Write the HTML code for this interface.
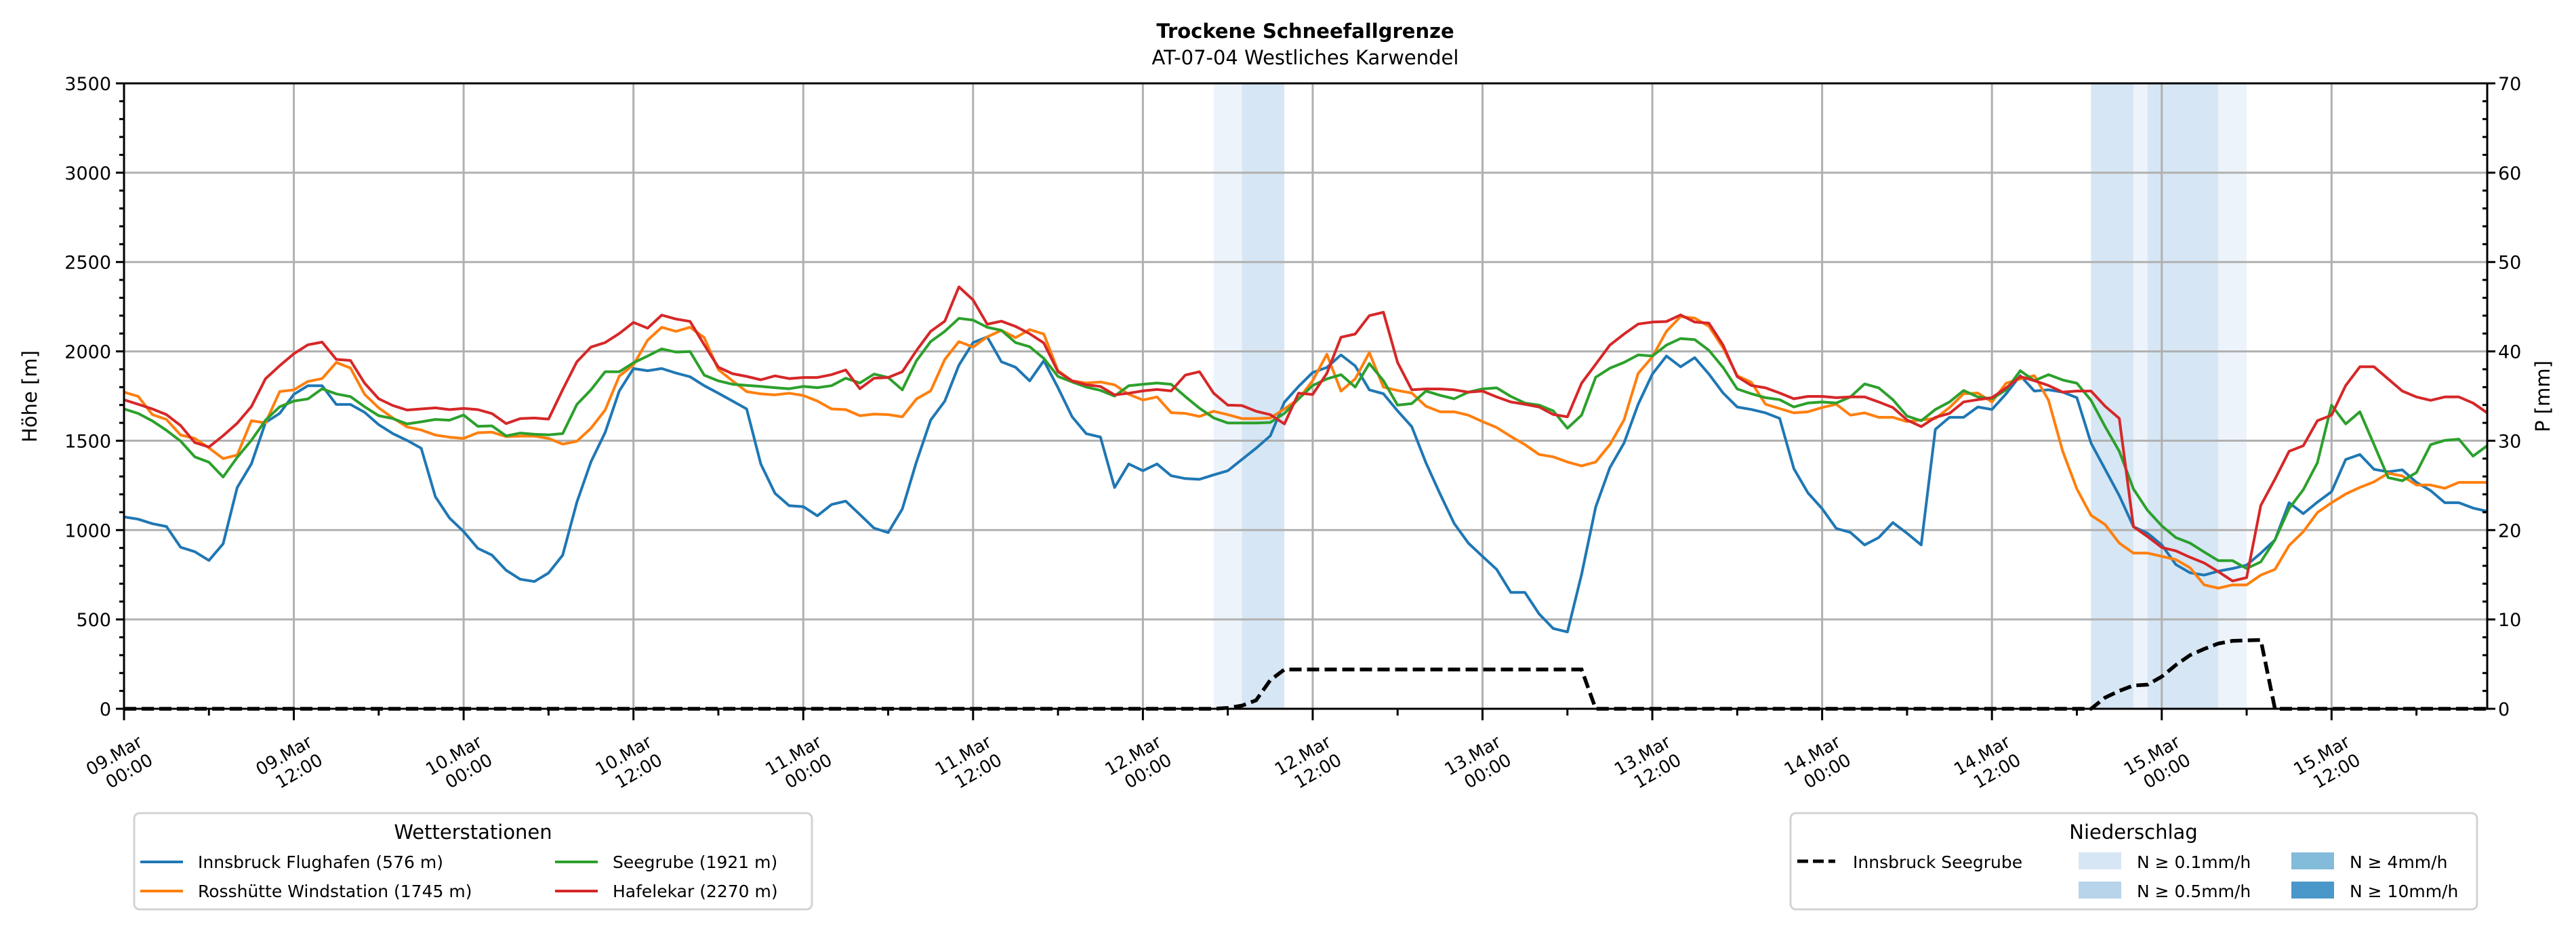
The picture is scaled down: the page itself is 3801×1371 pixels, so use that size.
<!DOCTYPE html>
<html><head><meta charset="utf-8"><title>Trockene Schneefallgrenze</title>
<style>html,body{margin:0;padding:0;background:#fff;}svg{display:block;font-family:"DejaVu Sans","Liberation Sans",sans-serif;}</style>
</head><body>
<svg id="chart" width="3801" height="1371" viewBox="0 0 3801 1371" xmlns="http://www.w3.org/2000/svg">
<rect x="0" y="0" width="3801" height="1371" fill="#fff"/>
<text x="1926" y="56" font-size="29" font-weight="bold" text-anchor="middle">Trockene Schneefallgrenze</text>
<text x="1926" y="95" font-size="29" text-anchor="middle">AT-07-04 Westliches Karwendel</text>
<g id="spans"></g>
<g id="grid"></g>
<g id="series"></g>
<g id="axes"></g>
<text transform="translate(54,585) rotate(-90)" font-size="29" text-anchor="middle">Höhe [m]</text>
<text transform="translate(3762,585) rotate(-90)" font-size="29" text-anchor="middle">P [mm]</text>
<g>
<rect x="198" y="1200" width="1000" height="142" rx="8" fill="#fff" stroke="#d3d3d3" stroke-width="3"/>
<text x="698" y="1238" font-size="29" text-anchor="middle">Wetterstationen</text>
<g><line x1="207" y1="1272" x2="270" y2="1272" stroke="#1f77b4" stroke-width="4"/><text x="292" y="1281" font-size="25">Innsbruck Flughafen (576 m)</text></g>
<g><line x1="207" y1="1315" x2="270" y2="1315" stroke="#ff7f0e" stroke-width="4"/><text x="292" y="1324" font-size="25">Rosshütte Windstation (1745 m)</text></g>
<g><line x1="819" y1="1272" x2="882" y2="1272" stroke="#2ca02c" stroke-width="4"/><text x="904" y="1281" font-size="25">Seegrube (1921 m)</text></g>
<g><line x1="819" y1="1315" x2="882" y2="1315" stroke="#d62728" stroke-width="4"/><text x="904" y="1324" font-size="25">Hafelekar (2270 m)</text></g>
</g>
<g>
<rect x="2642" y="1200" width="1013" height="142" rx="8" fill="#fff" stroke="#d3d3d3" stroke-width="3"/>
<text x="3148" y="1238" font-size="29" text-anchor="middle">Niederschlag</text>
<g><line x1="2652" y1="1271" x2="2708" y2="1271" stroke="#000" stroke-width="5" stroke-dasharray="16,7"/><text x="2734" y="1281" font-size="25">Innsbruck Seegrube</text></g>
<g><rect x="3067" y="1258" width="63" height="25" fill="#d6e6f4"/><text x="3153" y="1281" font-size="25">N ≥ 0.1mm/h</text></g>
<g><rect x="3067" y="1301" width="63" height="25" fill="#b7d4ea"/><text x="3153" y="1324" font-size="25">N ≥ 0.5mm/h</text></g>
<g><rect x="3381" y="1258" width="63" height="25" fill="#83bbdb"/><text x="3467" y="1281" font-size="25">N ≥ 4mm/h</text></g>
<g><rect x="3381" y="1301" width="63" height="25" fill="#4a98c9"/><text x="3467" y="1324" font-size="25">N ≥ 10mm/h</text></g>
</g>
</svg>
<script>
const xTickDays = ["09.Mar","09.Mar","10.Mar","10.Mar","11.Mar","11.Mar","12.Mar","12.Mar","13.Mar","13.Mar","14.Mar","14.Mar","15.Mar","15.Mar"];
const xTickTimes = ["00:00","12:00","00:00","12:00","00:00","12:00","00:00","12:00","00:00","12:00","00:00","12:00","00:00","12:00"];
const yTicks = [0,500,1000,1500,2000,2500,3000,3500];
const y2Ticks = [0,10,20,30,40,50,60,70];
const spanStart = [77,79,139,142,143,148];
const spanEnd = [79,82,142,143,148,150];
const spanLevel = ["light","mid","mid","light","mid","light"];
const innsbruck = [1074,1061,1036,1020,904,879,830,923,1238,1370,1602,1653,1760,1808,1808,1703,1703,1659,1590,1540,1502,1458,1187,1068,992,898,860,775,725,712,760,860,1156,1382,1546,1779,1904,1892,1904,1879,1858,1808,1766,1722,1678,1370,1206,1137,1131,1080,1143,1162,1087,1011,986,1118,1382,1615,1722,1923,2049,2081,1942,1911,1835,1948,1797,1634,1539,1521,1238,1370,1332,1370,1304,1288,1284,1309,1332,1395,1458,1527,1716,1804,1882,1910,1980,1919,1785,1763,1667,1579,1377,1202,1037,927,853,780,651,651,531,449,430,752,1129,1349,1487,1704,1873,1974,1914,1965,1873,1767,1689,1675,1656,1625,1344,1208,1120,1009,987,917,958,1042,982,917,1564,1631,1631,1689,1675,1763,1864,1778,1785,1772,1741,1487,1340,1193,1019,982,917,807,761,748,770,785,804,871,945,1153,1092,1156,1215,1395,1423,1340,1326,1337,1267,1221,1153,1153,1123,1105];
const rosshuette = [1772,1748,1646,1619,1532,1513,1460,1400,1420,1612,1600,1775,1785,1832,1848,1938,1907,1760,1684,1627,1577,1560,1532,1520,1513,1545,1548,1523,1526,1526,1513,1481,1497,1570,1672,1862,1925,2063,2135,2112,2135,2077,1898,1835,1775,1762,1757,1766,1753,1722,1678,1674,1640,1649,1646,1634,1734,1779,1955,2055,2024,2081,2118,2077,2122,2097,1892,1835,1823,1829,1813,1760,1728,1745,1657,1653,1636,1665,1646,1624,1624,1627,1678,1734,1836,1984,1778,1846,1993,1800,1781,1767,1693,1662,1662,1643,1607,1574,1524,1478,1423,1410,1381,1359,1381,1478,1616,1877,1969,2112,2195,2186,2140,2020,1864,1827,1704,1680,1656,1662,1686,1704,1643,1656,1631,1631,1607,1616,1625,1686,1763,1767,1717,1822,1846,1864,1726,1441,1230,1083,1031,927,871,871,853,835,789,693,675,693,693,748,780,914,991,1098,1153,1202,1239,1270,1318,1303,1252,1252,1234,1267,1267,1267];
const seegrube = [1678,1653,1611,1558,1498,1410,1380,1297,1407,1502,1615,1690,1722,1734,1791,1762,1747,1690,1640,1624,1594,1606,1619,1615,1644,1581,1583,1527,1543,1536,1533,1540,1703,1785,1886,1886,1936,1974,2014,1996,1999,1867,1835,1816,1810,1804,1797,1791,1804,1797,1808,1850,1823,1873,1854,1785,1948,2055,2112,2185,2175,2135,2118,2049,2026,1961,1860,1829,1800,1782,1750,1808,1816,1823,1816,1747,1682,1628,1599,1599,1599,1602,1653,1734,1809,1846,1870,1800,1932,1836,1699,1708,1778,1754,1735,1772,1790,1796,1748,1711,1699,1667,1570,1643,1855,1906,1938,1980,1974,2035,2072,2066,2006,1910,1790,1763,1741,1730,1689,1711,1717,1711,1745,1818,1796,1730,1638,1612,1675,1717,1781,1745,1735,1785,1892,1836,1870,1840,1822,1726,1579,1441,1230,1110,1024,958,927,877,829,829,785,822,945,1120,1226,1377,1699,1594,1662,1478,1294,1276,1322,1478,1502,1509,1414,1472];
const hafelekar = [1729,1704,1678,1646,1585,1490,1465,1528,1598,1691,1847,1920,1987,2037,2052,1955,1949,1822,1735,1697,1672,1678,1684,1674,1681,1674,1652,1596,1624,1627,1621,1786,1942,2024,2049,2100,2162,2130,2203,2181,2168,2037,1911,1875,1860,1841,1863,1848,1854,1854,1870,1896,1791,1850,1854,1886,2005,2112,2169,2361,2288,2152,2169,2140,2099,2047,1886,1835,1813,1804,1757,1766,1779,1787,1779,1867,1886,1766,1699,1697,1665,1646,1594,1766,1759,1877,2079,2097,2200,2219,1938,1785,1790,1790,1785,1772,1778,1745,1717,1704,1689,1647,1634,1822,1928,2035,2097,2153,2164,2167,2204,2164,2158,2035,1859,1809,1796,1767,1735,1748,1748,1741,1745,1745,1717,1686,1616,1579,1631,1653,1717,1730,1741,1796,1859,1836,1809,1772,1778,1778,1693,1625,1019,963,903,884,848,816,767,715,734,1138,1285,1441,1472,1612,1643,1809,1914,1914,1846,1778,1745,1726,1745,1745,1711,1656];
const precip = [
0,0,0,0,0,0,0,0,0,0,
0,0,0,0,0,0,0,0,0,0,
0,0,0,0,0,0,0,0,0,0,
0,0,0,0,0,0,0,0,0,0,
0,0,0,0,0,0,0,0,0,0,
0,0,0,0,0,0,0,0,0,0,
0,0,0,0,0,0,0,0,0,0,
0,0,0,0,0,0,0,0,0.1,0.35,
0.95,3.2,4.4,4.4,4.4,4.4,4.4,4.4,4.4,4.4,
4.4,4.4,4.4,4.4,4.4,4.4,4.4,4.4,4.4,4.4,
4.4,4.4,4.4,4.4,0,0,0,0,0,0,
0,0,0,0,0,0,0,0,0,0,
0,0,0,0,0,0,0,0,0,0,
0,0,0,0,0,0,0,0,0,0,
1.25,2.0,2.6,2.7,3.6,4.9,6.0,6.7,7.3,7.6,
7.65,7.7,0,0,0,0,0,0,0,0,
0,0,0,0,0,0,0,0];

const NS='http://www.w3.org/2000/svg';
const L=183,R=3670,T=123,B=1046,HMAX=167;
function xs(h){return L+(R-L)*h/HMAX;}
function ys(v){return B-(B-T)*v/3500;}
function yp(v){return B-(B-T)*v/70;}
function mk(tag,attrs,parent){const e=document.createElementNS(NS,tag);for(const k in attrs)e.setAttribute(k,attrs[k]);parent.appendChild(e);return e;}
const gS=document.getElementById('spans'),gG=document.getElementById('grid'),gL=document.getElementById('series'),gA=document.getElementById('axes');
const spanCol={light:'#edf3fa',mid:'#d6e6f4'};
spanStart.forEach((s,i)=>{const r=mk('rect',{x:xs(s),y:T,width:xs(spanEnd[i])-xs(s),height:B-T,fill:spanCol[spanLevel[i]]},gS);

});
yTicks.forEach(v=>{if(v>0&&v<3500){const l=mk('line',{x1:L,x2:R,y1:ys(v),y2:ys(v),stroke:'#b0b0b0','stroke-width':3},gG);

}});
xTickDays.forEach((d,i)=>{const h=i*12;if(h>0){const l=mk('line',{x1:xs(h),x2:xs(h),y1:T,y2:B,stroke:'#b0b0b0','stroke-width':3},gG);

}});
function series(arr,col,name,scale,extra){let d='';arr.forEach((v,i)=>{d+=(i?'L':'M')+xs(i).toFixed(1)+','+scale(v).toFixed(1);});
const p=mk('path',Object.assign({d:d,fill:'none',stroke:col,'stroke-width':4,'stroke-linejoin':'round'},extra||{}),gL);

}
series(innsbruck,'#1f77b4','line-innsbruck',ys);
series(rosshuette,'#ff7f0e','line-rosshuette',ys);
series(seegrube,'#2ca02c','line-seegrube',ys);
series(hafelekar,'#d62728','line-hafelekar',ys);
series(precip,'#000','line-precip-seegrube',yp,{'stroke-width':5.5,'stroke-dasharray':'18,8','stroke-linejoin':'miter'});
const fr=mk('rect',{x:L,y:T,width:R-L,height:B-T,fill:'none',stroke:'#000','stroke-width':3},gA);


for(let v=0;v<=3500;v+=100){const major=v%500===0;const t=mk('line',{x1:L-(major?12:7),x2:L,y1:ys(v),y2:ys(v),stroke:'#000','stroke-width':3},gA);

}
yTicks.forEach(v=>{const t=mk('text',{x:L-19,y:ys(v)+10,'font-size':27,'text-anchor':'end'},gA);t.textContent=v;

});
for(let v=0;v<=70;v+=2){const major=v%10===0;const t=mk('line',{x1:R,x2:R+(major?12:0)-(major?0:7),y1:yp(v),y2:yp(v),stroke:'#000','stroke-width':3},gA);

}
y2Ticks.forEach(v=>{const t=mk('text',{x:R+16,y:yp(v)+10,'font-size':27,'text-anchor':'start'},gA);t.textContent=v;

});
for(let h=0;h<=HMAX;h+=6){const major=h%12===0;const t=mk('line',{x1:xs(h),x2:xs(h),y1:B,y2:B+(major?17:10),stroke:'#000','stroke-width':3},gA);

}
xTickDays.forEach((d,i)=>{const h=i*12;const g=mk('g',{transform:'translate('+(xs(h)+29)+',1100) rotate(-30)'},gA);


const t1=mk('text',{x:0,y:0,'font-size':26,'text-anchor':'end'},g);t1.textContent=d;
const t2=mk('text',{x:0,y:31,'font-size':26,'text-anchor':'end'},g);t2.textContent=xTickTimes[i];});
</script>
</body></html>
